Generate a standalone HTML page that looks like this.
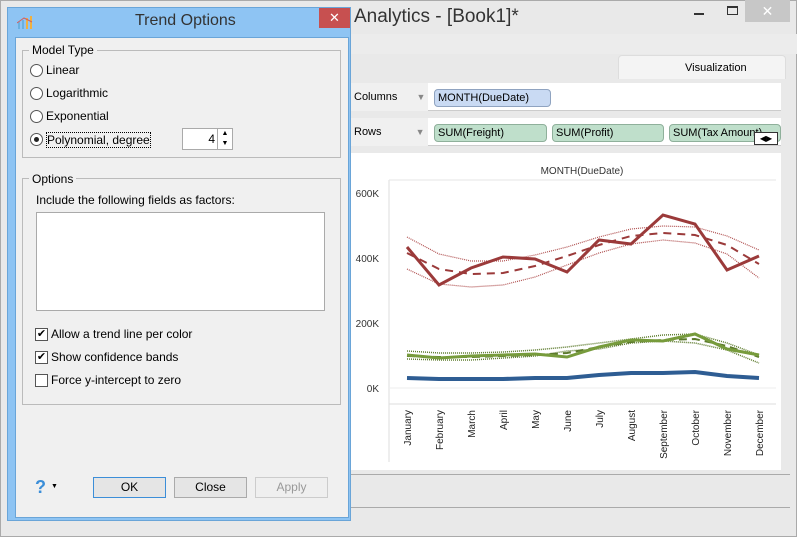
<!DOCTYPE html>
<html><head><meta charset="utf-8"><style>
*{box-sizing:border-box;margin:0;padding:0}
body{width:797px;height:537px;overflow:hidden;background:#f0f0f0;font-family:"Liberation Sans",sans-serif;font-size:12px;color:#000;position:relative}
.a{position:absolute}
</style></head><body>
<!-- app window -->
<div class="a" style="left:0;top:0;width:797px;height:537px;background:#e9e9e9;border:1px solid #aaa"></div>
<div class="a" style="left:354px;top:6px;font-size:19px;color:#333">Analytics - [Book1]*</div>
<div class="a" style="left:694px;top:13px;width:10px;height:2px;background:#333"></div>
<div class="a" style="left:727px;top:6px;width:11px;height:9px;border:1px solid #333;border-top-width:2px"></div>
<div class="a" style="left:745px;top:0;width:45px;height:22px;background:#c7c7c7;color:#fff;text-align:center;font-size:14px;line-height:22px">✕</div>
<div class="a" style="left:350px;top:34px;width:447px;height:20px;background:#ececec"></div>
<div class="a" style="left:618px;top:55px;width:168px;height:24px;background:#f4f4f4;border:1px solid #ddd;border-bottom:none;border-radius:4px 4px 0 0;font-size:11px;line-height:24px;padding-left:66px">Visualization</div>
<div class="a" style="left:350px;top:83px;width:431px;height:28px;background:#fff;border-bottom:1px solid #ccc"></div>
<div class="a" style="left:350px;top:83px;width:78px;height:28px;background:#f0f0f0;font-size:11px;line-height:28px;padding-left:4px">Columns <span style="margin-left:16px;color:#888;font-size:9px">▼</span></div>
<div class="a" style="left:434px;top:89px;width:117px;height:18px;background:#c9daf3;border:1px solid #8fa3c0;border-radius:4px;font-size:11px;line-height:16px;padding-left:3px">MONTH(DueDate)</div>
<div class="a" style="left:350px;top:118px;width:431px;height:28px;background:#fff;border-bottom:1px solid #ccc"></div>
<div class="a" style="left:350px;top:118px;width:78px;height:28px;background:#f0f0f0;font-size:11px;line-height:28px;padding-left:4px">Rows <span style="margin-left:31px;color:#888;font-size:9px">▼</span></div>
<div class="a" style="left:434px;top:124px;width:113px;height:18px;background:#bfdfcb;border:1px solid #8fb09b;border-radius:4px;font-size:11px;line-height:16px;padding-left:3px">SUM(Freight)</div>
<div class="a" style="left:552px;top:124px;width:112px;height:18px;background:#bfdfcb;border:1px solid #8fb09b;border-radius:4px;font-size:11px;line-height:16px;padding-left:3px">SUM(Profit)</div>
<div class="a" style="left:669px;top:124px;width:112px;height:18px;background:#bfdfcb;border:1px solid #8fb09b;border-radius:4px;font-size:11px;line-height:16px;padding-left:3px;overflow:hidden;white-space:nowrap">SUM(Tax Amount)</div>
<div class="a" style="left:754px;top:132px;width:24px;height:13px;background:#fff;border:1px solid #333;font-size:8px;line-height:11px;text-align:center">◀▶</div>
<div class="a" style="left:350px;top:153px;width:431px;height:157px;background:#fff"></div>
<div class="a" style="left:350px;top:153px;width:431px;height:317px;background:#fff"></div>
<div class="a" style="left:350px;top:474px;width:440px;height:1px;background:#aaa"></div>
<div class="a" style="left:350px;top:507px;width:440px;height:1px;background:#aaa"></div>
<svg class="a" style="left:0;top:0" width="797" height="537">
<text x="582" y="174" font-size="10" text-anchor="middle" fill="#333" font-family="Liberation Sans">MONTH(DueDate)</text>
<line x1="389" y1="180" x2="389" y2="462" stroke="#ddd"/>
<line x1="389" y1="180" x2="776" y2="180" stroke="#e6e6e6"/>
<line x1="389" y1="404" x2="776" y2="404" stroke="#ddd"/>
<line x1="389" y1="388" x2="776" y2="388" stroke="#eee"/>
<g font-size="10" fill="#333" text-anchor="end" font-family="Liberation Sans">
<text x="379" y="197">600K</text><text x="379" y="262">400K</text><text x="379" y="327">200K</text><text x="379" y="392">0K</text></g>
<g font-size="10" fill="#222" font-family="Liberation Sans">
<text transform="translate(411,410) rotate(-90)" text-anchor="end">January</text>
<text transform="translate(443,410) rotate(-90)" text-anchor="end">February</text>
<text transform="translate(475,410) rotate(-90)" text-anchor="end">March</text>
<text transform="translate(507,410) rotate(-90)" text-anchor="end">April</text>
<text transform="translate(539,410) rotate(-90)" text-anchor="end">May</text>
<text transform="translate(571,410) rotate(-90)" text-anchor="end">June</text>
<text transform="translate(603,410) rotate(-90)" text-anchor="end">July</text>
<text transform="translate(635,410) rotate(-90)" text-anchor="end">August</text>
<text transform="translate(667,410) rotate(-90)" text-anchor="end">September</text>
<text transform="translate(699,410) rotate(-90)" text-anchor="end">October</text>
<text transform="translate(731,410) rotate(-90)" text-anchor="end">November</text>
<text transform="translate(763,410) rotate(-90)" text-anchor="end">December</text></g>
<g fill="none">
<polyline stroke="#b05050" stroke-width="1.2" stroke-dasharray="1,1" points="407,237 439,254 471,261 503,261 535,255 567,247 599,237 631,229 663,226 695,227 727,236 759,250"/>
<polyline stroke="#b05050" stroke-width="1.2" stroke-dasharray="1,1" points="407,269 439,284 471,287 503,285 535,277 567,265 599,253 631,244 663,240 695,243 727,254 759,278"/>
<polyline stroke="#9b3a3a" stroke-width="2" stroke-dasharray="8,6" points="407,253 439,269 471,274 503,273 535,266 567,256 599,245 631,236 663,233 695,235 727,245 759,264"/>
<polyline stroke="#9b3a3a" stroke-width="3" points="407,247 439,285 471,268 503,257 535,259 567,272 599,240 631,244 663,215 695,224 727,270 759,256"/>
<polyline stroke="#5c7a2c" stroke-width="1.5" stroke-dasharray="1,1" points="407,351 439,353 471,353 503,352 535,350 567,347 599,343 631,339 663,335 695,334 727,343 759,355"/>
<polyline stroke="#5c7a2c" stroke-width="1.5" stroke-dasharray="1,1" points="407,359 439,360 471,360 503,358 535,356 567,351 599,349 631,343 663,341 695,343 727,350 759,363"/>
<polyline stroke="#5c7a2c" stroke-width="2" stroke-dasharray="8,5" points="407,356 439,357 471,357 503,356 535,355 567,353 599,347 631,342 663,340 695,339 727,346 759,357"/>
<polyline stroke="#779b3c" stroke-width="3" points="407,355 439,358 471,356 503,355 535,354 567,357 599,347 631,340 663,341 695,334 727,349 759,355"/>
<polyline stroke="#2e5d93" stroke-width="4" points="407,378 439,379 471,379 503,379 535,378 567,378 599,375 631,373 663,373 695,372 727,376 759,378"/>
</g>
</svg>
<!-- dialog -->
<div class="a" style="left:7px;top:7px;width:344px;height:514px;background:#8ec4f3;border:1px solid #6aa5d8"></div>
<div class="a" style="left:15px;top:37px;width:334px;height:481px;background:#f0f0f0;border:1px solid #6aa5d8"></div>
<div class="a" style="left:135px;top:12px;font-size:16px;color:#333">Trend Options</div>
<svg class="a" style="left:17px;top:14px" width="16" height="16"><rect x="1" y="8" width="2" height="7" fill="#6ab0e0"/><rect x="5" y="6" width="2" height="9" fill="#6ab0e0"/><rect x="9" y="4" width="2" height="11" fill="#f0b040"/><rect x="13" y="2" width="2" height="13" fill="#f0b040"/><polyline points="0,9 7,4 15,8" stroke="#d06060" fill="none"/></svg>
<div class="a" style="left:319px;top:8px;width:31px;height:20px;background:#c75050;color:#fff;text-align:center;font-size:13px;line-height:20px">✕</div>
<div class="a" style="left:22px;top:50px;width:319px;height:108px;border:1px solid #bbb"></div>
<div class="a" style="left:29px;top:43px;background:#f0f0f0;padding:0 3px">Model Type</div>
<div class="a" style="left:30px;top:64px;width:13px;height:13px;border:1px solid #555;border-radius:50%;background:#fff"></div><div class="a" style="left:46px;top:63px">Linear</div>
<div class="a" style="left:30px;top:87px;width:13px;height:13px;border:1px solid #555;border-radius:50%;background:#fff"></div><div class="a" style="left:46px;top:86px">Logarithmic</div>
<div class="a" style="left:30px;top:110px;width:13px;height:13px;border:1px solid #555;border-radius:50%;background:#fff"></div><div class="a" style="left:46px;top:109px">Exponential</div>
<div class="a" style="left:30px;top:133px;width:13px;height:13px;border:1px solid #555;border-radius:50%;background:#fff"></div><div class="a" style="left:34px;top:137px;width:5px;height:5px;border-radius:50%;background:#222"></div>
<div class="a" style="left:46px;top:132px;border:1px dotted #000">Polynomial, degree</div>
<div class="a" style="left:182px;top:128px;width:51px;height:22px;background:#fff;border:1px solid #aaa;text-align:right;padding-right:17px;line-height:20px">4</div>
<div class="a" style="left:217px;top:129px;width:15px;height:20px;border-left:1px solid #aaa;font-size:7px;text-align:center;line-height:10px">▲<br>▼</div>
<div class="a" style="left:22px;top:178px;width:319px;height:227px;border:1px solid #bbb"></div>
<div class="a" style="left:29px;top:172px;background:#f0f0f0;padding:0 3px">Options</div>
<div class="a" style="left:36px;top:193px">Include the following fields as factors:</div>
<div class="a" style="left:36px;top:212px;width:289px;height:99px;background:#fff;border:1px solid #aaa"></div>
<div class="a" style="left:35px;top:328px;width:13px;height:13px;border:1px solid #555;background:#fff;font-size:11px;line-height:11px;text-align:center">✔</div><div class="a" style="left:51px;top:327px">Allow a trend line per color</div>
<div class="a" style="left:35px;top:351px;width:13px;height:13px;border:1px solid #555;background:#fff;font-size:11px;line-height:11px;text-align:center">✔</div><div class="a" style="left:51px;top:350px">Show confidence bands</div>
<div class="a" style="left:35px;top:374px;width:13px;height:13px;border:1px solid #555;background:#fff"></div><div class="a" style="left:51px;top:373px">Force y-intercept to zero</div>
<div class="a" style="left:35px;top:477px;font-size:18px;font-weight:bold;color:#3b8ed8">?</div><div class="a" style="left:51px;top:483px;font-size:7px">▼</div>
<div class="a" style="left:93px;top:477px;width:73px;height:21px;border:1px solid #3c8ed8;background:#e5e5e5;text-align:center;line-height:19px">OK</div>
<div class="a" style="left:174px;top:477px;width:73px;height:21px;border:1px solid #aaa;background:#e5e5e5;text-align:center;line-height:19px">Close</div>
<div class="a" style="left:255px;top:477px;width:73px;height:21px;border:1px solid #ccc;background:#efefef;color:#999;text-align:center;line-height:19px">Apply</div>
</body></html>
